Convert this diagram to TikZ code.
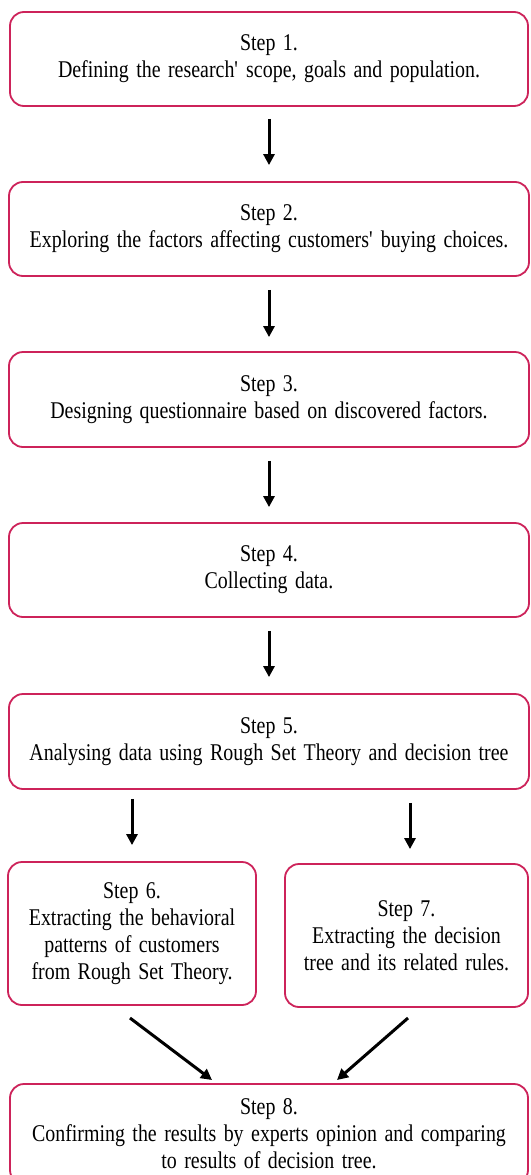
\documentclass[tikz,border=0pt]{standalone}
\usepackage{fontspec}
\setmainfont[FakeStretch=0.83,WordSpace=1.5]{Liberation Serif}
\usetikzlibrary{arrows.meta,calc}
\definecolor{boxc}{RGB}{205,35,90}
\tikzset{
  stepbox/.style={draw=boxc, line width=1.8pt, rounded corners=14pt, align=center,
    inner sep=0pt, font=\fontsize{24}{27}\selectfont},
  arr/.style={draw=black, line width=3pt, -{Triangle[length=11pt,width=11pt]}}
}
\newcommand{\aps}{\textquotesingle}
\begin{document}
\begin{tikzpicture}[x=1pt,y=-1pt]
\useasboundingbox (0,0) rectangle (530,1175);
\node[stepbox, minimum width=518pt, minimum height=94pt] (b1) at (269,59)
  {Step 1.\\Defining the research\aps{} scope, goals and population.};
\node[stepbox, minimum width=520pt, minimum height=94pt] (b2) at (269,229)
  {Step 2.\\Exploring the factors affecting customers\aps{} buying choices.};
\node[stepbox, minimum width=520pt, minimum height=95pt] (b3) at (269,399.5)
  {Step 3.\\Designing questionnaire based on discovered factors.};
\node[stepbox, minimum width=520pt, minimum height=94pt] (b4) at (269,570)
  {Step 4.\\Collecting data.};
\node[stepbox, minimum width=520pt, minimum height=95pt] (b5) at (269,741.5)
  {Step 5.\\Analysing data using Rough Set Theory and decision tree};
\node[stepbox, minimum width=248pt, minimum height=143pt] (b6) at (132,933.5)
  {Step 6.\\Extracting the behavioral\\patterns of customers\\from Rough Set Theory.};
\node[stepbox, minimum width=243pt, minimum height=143pt] (b7) at (406.5,935.5)
  {Step 7.\\Extracting the decision\\tree and its related rules.};
\node[stepbox, minimum width=518pt, minimum height=100pt] (b8) at (269,1134)
  {Step 8.\\Confirming the results by experts opinion and comparing\\to results of decision tree.};
\draw[arr, shorten <=12pt, shorten >=16pt] (b1.south) -- (b2.north);
\draw[arr, shorten <=13pt, shorten >=14pt] (b2.south) -- (b3.north);
\draw[arr, shorten <=13pt, shorten >=15pt] (b3.south) -- (b4.north);
\draw[arr, shorten <=13pt, shorten >=16pt] (b4.south) -- (b5.north);
\draw[arr, shorten <=9pt, shorten >=16pt] (b6.north |- b5.south) -- (b6.north);
\coordinate (r7) at (410,0);
\draw[arr, shorten <=13pt, shorten >=14pt] (r7 |- b5.south) -- (r7 |- b7.north);
\coordinate (s6) at (130,1018);
\coordinate (e6) at (212,1080);
\coordinate (s7) at (408,1018);
\coordinate (e7) at (337,1080);
\draw[arr] (s6) -- (e6);
\draw[arr] (s7) -- (e7);
\end{tikzpicture}
\end{document}
